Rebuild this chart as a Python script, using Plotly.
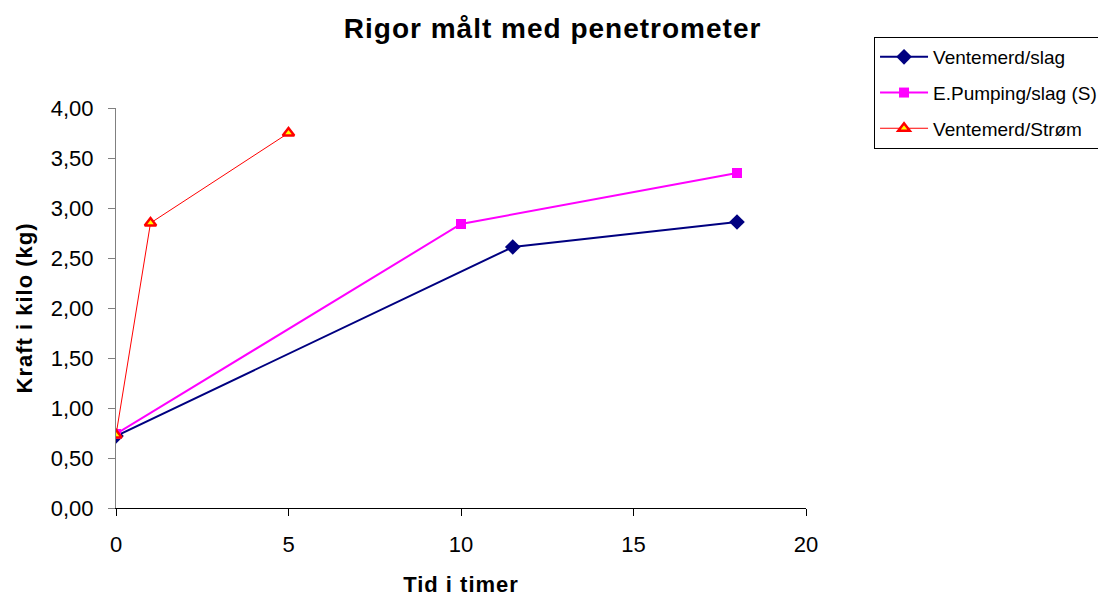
import plotly.graph_objects as go

series_names = ["Ventemerd/slag", "E.Pumping/slag (S)", "Ventemerd/Strøm"]
x_slag = [0, 11.5, 18]
y_slag = [0.72, 2.61, 2.86]
x_pump = [0, 10, 18]
y_pump = [0.74, 2.84, 3.35]
x_strom = [0, 1, 5]
y_strom = [0.73, 2.85, 3.75]

fig = go.Figure()
fig.add_trace(go.Scatter(x=x_slag, y=y_slag, name=series_names[0], mode="lines+markers",
                         legendgroup="a",
                         line=dict(color="#000080", width=2),
                         marker=dict(symbol="diamond", size=12, color="#000080")))
fig.add_trace(go.Scatter(x=x_pump, y=y_pump, name=series_names[1], mode="lines+markers",
                         legendgroup="b",
                         line=dict(color="#FF00FF", width=2),
                         marker=dict(symbol="square", size=10, color="#FF00FF")))
fig.add_trace(go.Scatter(x=x_strom, y=y_strom, name=series_names[2], mode="lines+markers",
                         legendgroup="c",
                         line=dict(color="#FF0000", width=1),
                         marker=dict(symbol="triangle-up", size=10, color="#FFFF00",
                                     line=dict(color="#FF0000", width=2.5))))

fig.update_layout(
    width=1098, height=589,
    paper_bgcolor="white", plot_bgcolor="white",
    margin=dict(l=108, r=300, t=100, b=89, autoexpand=False),
    separators=", ",
    font=dict(family="Liberation Sans, Arial, sans-serif", color="black"),
    title=dict(text="<b>Rigor målt med penetrometer</b>", x=0.496, xanchor="center",
               y=0.966, yanchor="middle", font=dict(size=28)),
    xaxis=dict(range=[0, 20], dtick=5, showgrid=False, zeroline=False, automargin=False,
               showline=True, linecolor="black", linewidth=1,
               ticks="outside", ticklen=7, tickcolor="black",
               tickfont=dict(size=22), ticklabelstandoff=10,
               title=dict(text="<b>Tid i timer</b>", font=dict(size=22), standoff=22)),
    yaxis=dict(range=[0, 4], dtick=0.5, tickformat=".2f", showgrid=False, zeroline=False,
               automargin=False,
               showline=True, linecolor="#808080", linewidth=1,
               ticks="outside", ticklen=7, tickcolor="#808080",
               tickfont=dict(size=22), ticklabelstandoff=10,
               title=dict(text="<b>Kraft i kilo (kg)</b>", font=dict(size=22), standoff=12)),
    legend=dict(x=1.0986, y=1.1775, xanchor="left", yanchor="top",
                bordercolor="black", borderwidth=1, bgcolor="white",
                font=dict(size=19), tracegroupgap=8, itemwidth=48),
    showlegend=True,
)

post = """
var gd = document.getElementById('{plot_id}');
gd.querySelectorAll('.gtitle, .xtitle, .ytitle').forEach(function(t){ t.style.letterSpacing = '1px'; });
"""
fig.write_html("out.html", post_script=post)
